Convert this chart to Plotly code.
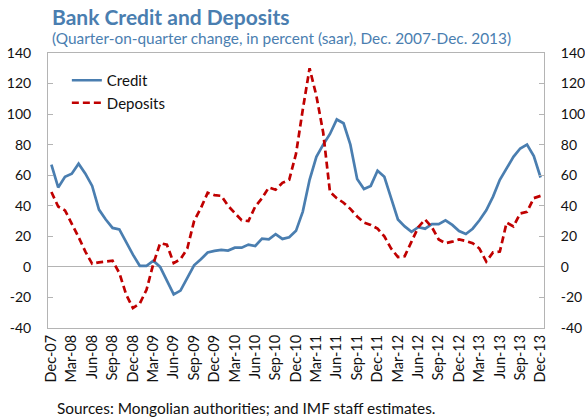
import plotly.graph_objects as go

months = ["Jan", "Feb", "Mar", "Apr", "May", "Jun", "Jul", "Aug", "Sep", "Oct", "Nov", "Dec"]
dates = ["Dec-07"] + [f"{m}-{y:02d}" for y in range(8, 14) for m in months]

credit = [67, 52, 59, 61, 67.5, 61, 53, 37.5, 31, 25.5, 24.5, 16, 8, 0.7, 0.7, 4, 0, -9, -18, -15.5,
          -7, 1, 5, 9.4, 10.5, 11.1, 10.7, 12.6, 12.6, 14.6, 13.7, 18.5, 18.1, 21.4, 18.3, 19.4,
          23.6, 36.2, 57, 72, 80, 87, 96.5, 94, 80, 57.5, 51, 53, 63, 59, 45, 31, 26.5, 23, 26,
          25, 28, 28, 30.5, 27.5, 23.5, 21.5, 25, 30.5, 37, 46, 57, 65, 72, 77.5, 80, 72.5, 58.5]

deposits = [49, 39.5, 37, 28.5, 19.5, 10, 2, 3, 3.5, 4, -4, -18, -27, -24, -15, 2, 15.5, 14.5, 2.5, 5,
            12, 30, 38.5, 48.5, 47, 46.5, 40, 35, 30.5, 30, 39.5, 45, 52, 50.5, 55, 57, 74, 103,
            130, 112, 88, 49, 45, 42, 38, 33, 29, 27.5, 25, 20, 12, 6.5, 7, 16.5, 26, 31, 26, 18,
            15.5, 16.5, 18, 17, 15.5, 12, 3.5, 9.5, 10, 29, 26.5, 35, 36, 45, 46.5]

tick_labels = dates[::3]
tick_positions = list(range(0, len(dates), 3))
y_ticks = list(range(-40, 141, 20))
y_tick_labels = [str(v) for v in y_ticks]

FONT = "Lato"
BLUE = "#4a7eb0"
RED = "#c00000"
AXIS = "#b4b4b4"

x = list(range(len(dates)))

fig = go.Figure()
fig.add_trace(go.Scatter(x=x, y=credit, name="Credit", mode="lines",
                         line=dict(color=BLUE, width=2.7)))
fig.add_trace(go.Scatter(x=x, y=deposits, name="Deposits", mode="lines",
                         line=dict(color=RED, width=2.7, dash="7px,4px")))
# invisible trace to activate the right-hand axis
fig.add_trace(go.Scatter(x=x, y=credit, yaxis="y2", mode="lines", showlegend=False,
                         hoverinfo="skip", line=dict(color="rgba(0,0,0,0)", width=0)))

axis_common = dict(range=[-40, 140], tickvals=y_ticks, ticktext=y_tick_labels, showgrid=False,
                   showline=True, linecolor=AXIS, linewidth=1, ticks="inside", ticklen=5,
                   tickcolor=AXIS, ticklabelstandoff=13, automargin=False,
                   tickfont=dict(family=FONT, size=14, color="#111"))

fig.update_layout(
    width=585, height=419,
    margin=dict(l=48, r=41, t=53, b=91, autoexpand=False),
    paper_bgcolor="white", plot_bgcolor="white",
    showlegend=True,
    legend=dict(x=0.038, y=0.96, xanchor="left", yanchor="top", bgcolor="rgba(0,0,0,0)",
                font=dict(family=FONT, size=15, color="#111"), itemwidth=30,
                tracegroupgap=0),
    xaxis=dict(range=[-0.5, len(dates) - 0.5], tickvals=tick_positions, ticktext=tick_labels,
               tickangle=-90, showgrid=False, showline=True, mirror=True, linecolor=AXIS,
               linewidth=1, ticks="", zeroline=False, automargin=False,
               tickfont=dict(family=FONT, size=14.5, color="#111")),
    yaxis=dict(**axis_common, side="left", zeroline=True, zerolinecolor=AXIS, zerolinewidth=1),
    yaxis2=dict(**axis_common, side="right", overlaying="y", zeroline=False),
    annotations=[
        dict(text="<b>Bank Credit and Deposits</b>", xref="paper", yref="paper",
             x=0.004, y=1.131, xanchor="left", yanchor="middle", showarrow=False,
             font=dict(family=FONT, size=21, color=BLUE)),
        dict(text="(Quarter-on-quarter change, in percent (saar), Dec. 2007-Dec. 2013)",
             xref="paper", yref="paper", x=0.004, y=1.054, xanchor="left", yanchor="middle",
             showarrow=False, font=dict(family=FONT, size=15.4, color=BLUE)),
        dict(text="Sources: Mongolian authorities; and IMF staff estimates.",
             xref="paper", yref="paper", x=0.014, y=-0.291, xanchor="left", yanchor="middle",
             showarrow=False, font=dict(family=FONT, size=15.4, color="#111")),
    ],
)

fig.write_html("out.html", config={"displayModeBar": False},
               post_script="document.body.style.margin='0';")
